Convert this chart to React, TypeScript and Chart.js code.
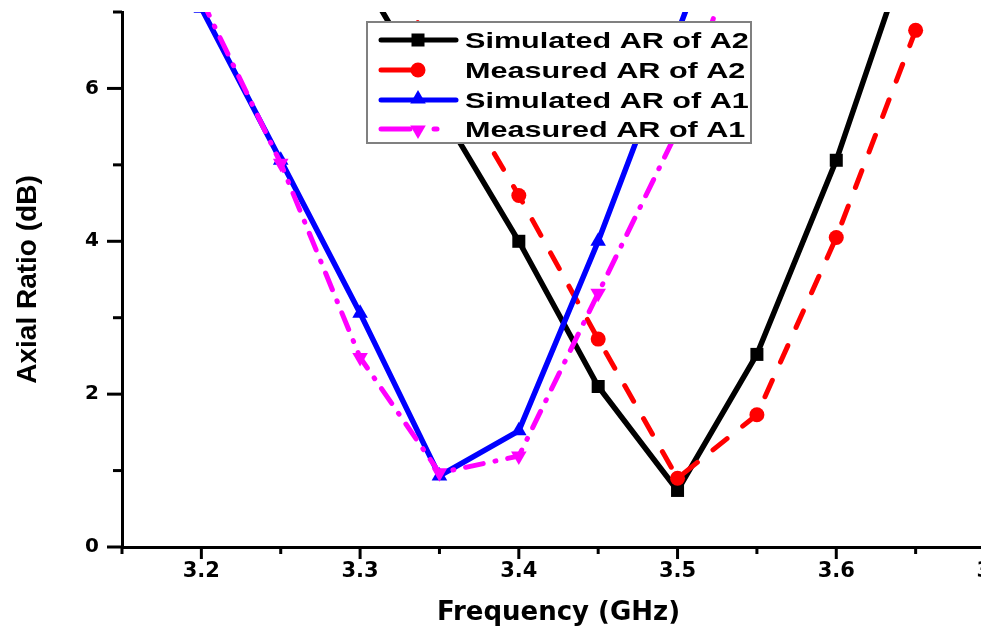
import React, { useEffect, useRef } from 'react';
import { Chart, registerables } from 'chart.js';

Chart.register(...registerables);

// ---- data ----
const freqA2 = [3.3, 3.35, 3.4, 3.45, 3.5, 3.55, 3.6, 3.65];
const simulatedA2 = [7.5, 5.74, 4.0, 2.1, 0.74, 2.52, 5.06, 8.1];
const measuredA2 = [8.15, 6.37, 4.6, 2.72, 0.9, 1.73, 4.05, 6.76];

const freqA1 = [3.2, 3.25, 3.3, 3.35, 3.4, 3.45, 3.5, 3.55];
const simulatedA1 = [7.05, 5.06, 3.06, 0.93, 1.52, 4.0, 6.73, 9.5];
const measuredA1 = [7.17, 5.02, 2.48, 0.97, 1.19, 3.32, 5.45, 8.7];

const seriesNames = ['Simulated AR of A2', 'Measured AR of A2', 'Simulated AR of A1', 'Measured AR of A1'];

const xTickValues = [3.15, 3.2, 3.25, 3.3, 3.35, 3.4, 3.45, 3.5, 3.55, 3.6, 3.65, 3.7];
const xTickLabels = ['', '3.2', '', '3.3', '', '3.4', '', '3.5', '', '3.6', '', '3.7'];
const yTickValues = [0, 1, 2, 3, 4, 5, 6, 7];
const yTickLabels = ['0', '', '2', '', '4', '', '6', ''];

const xTitle = 'Frequency (GHz)';
const yTitle = 'Axial Ratio (dB)';

const toPoints = (xs: number[], ys: number[]) => xs.map((x, i) => ({ x, y: ys[i] }));

function drawMarker(ctx: CanvasRenderingContext2D, style: string, x: number, y: number, r: number, color: string) {
  ctx.save();
  ctx.fillStyle = color;
  ctx.beginPath();
  if (style === 'rect') {
    const s = Math.SQRT1_2 * r;
    ctx.rect(x - s, y - s, 2 * s, 2 * s);
  } else if (style === 'circle') {
    ctx.arc(x, y, r, 0, Math.PI * 2);
  } else {
    const dir = style === 'triangleDown' ? -1 : 1;
    ctx.moveTo(x, y - dir * r);
    ctx.lineTo(x + 0.866 * r, y + dir * 0.5 * r);
    ctx.lineTo(x - 0.866 * r, y + dir * 0.5 * r);
    ctx.closePath();
  }
  ctx.fill();
  ctx.restore();
}

const tickPlugin = {
  id: 'axisTicks',
  afterDraw(chart: any) {
    const { ctx, chartArea, scales } = chart;
    const xs = scales.x;
    const ys = scales.y;
    ctx.save();
    ctx.strokeStyle = '#000';
    ctx.lineWidth = 3;
    ctx.lineCap = 'butt';
    xTickValues.forEach((v, i) => {
      const px = xs.getPixelForValue(v);
      if (px < chartArea.left - 2 || px > chartArea.right + 2) return;
      const len = xTickLabels[i] ? 12 : 7;
      ctx.beginPath();
      ctx.moveTo(px, chartArea.bottom);
      ctx.lineTo(px, chartArea.bottom + len);
      ctx.stroke();
    });
    yTickValues.forEach((v, i) => {
      const py = ys.getPixelForValue(v);
      const len = yTickLabels[i] ? 15 : 9;
      ctx.beginPath();
      ctx.moveTo(chartArea.left - len, py);
      ctx.lineTo(chartArea.left, py);
      ctx.stroke();
    });
    ctx.restore();
  },
};

const legendPlugin = {
  id: 'boxLegend',
  afterDraw(chart: any) {
    const { ctx } = chart;
    const bx = 367, by = 22, bw = 384, bh = 121;
    const rows = [40, 70, 100, 129];
    ctx.save();
    ctx.fillStyle = '#fff';
    ctx.fillRect(bx, by, bw, bh);
    ctx.strokeStyle = '#808080';
    ctx.lineWidth = 2;
    ctx.strokeRect(bx, by, bw, bh);

    const lx0 = 381, lx1 = 456, mx = 418;
    ctx.lineCap = 'round';
    ctx.lineWidth = 5;
    ctx.strokeStyle = '#000';
    ctx.beginPath(); ctx.moveTo(lx0, rows[0]); ctx.lineTo(lx1, rows[0]); ctx.stroke();
    drawMarker(ctx, 'rect', mx, rows[0], 9.2, '#000');
    ctx.strokeStyle = '#ff0000';
    ctx.beginPath(); ctx.moveTo(lx0, rows[1]); ctx.lineTo(412, rows[1]); ctx.stroke();
    drawMarker(ctx, 'circle', mx, rows[1], 7.5, '#ff0000');
    ctx.strokeStyle = '#0000ff';
    ctx.beginPath(); ctx.moveTo(lx0, rows[2]); ctx.lineTo(lx1, rows[2]); ctx.stroke();
    drawMarker(ctx, 'triangle', mx, rows[2] - 1, 9, '#0000ff');
    ctx.strokeStyle = '#ff00ff';
    ctx.beginPath(); ctx.moveTo(lx0, rows[3]); ctx.lineTo(410, rows[3]); ctx.stroke();
    ctx.beginPath(); ctx.moveTo(434, rows[3]); ctx.lineTo(437, rows[3]); ctx.stroke();
    drawMarker(ctx, 'triangleDown', mx, rows[3] + 1, 9, '#ff00ff');

    ctx.fillStyle = '#000';
    ctx.font = 'bold 22px "Liberation Sans", Arial, sans-serif';
    ctx.textBaseline = 'alphabetic';
    ctx.textAlign = 'left';
    seriesNames.forEach((name, i) => {
      ctx.save();
      ctx.translate(465, rows[i] + 8);
      ctx.scale(1.39, 1);
      ctx.fillText(name, 0, 0);
      ctx.restore();
    });
    ctx.restore();
  },
};

export default function App() {
  const canvasRef = useRef<HTMLCanvasElement | null>(null);

  useEffect(() => {
    document.body.style.margin = '0';
    document.body.style.overflow = 'hidden';
    const canvas = canvasRef.current;
    if (!canvas) return;

    const chart = new Chart(canvas, {
      type: 'line',
      data: {
        datasets: [
          {
            label: seriesNames[0],
            data: toPoints(freqA2, simulatedA2),
            borderColor: '#000000',
            backgroundColor: '#000000',
            borderWidth: 5.5,
            pointStyle: 'rect',
            pointRadius: 9.2,
            pointBorderWidth: 0,
            order: 3,
            clip: 0,
          },
          {
            label: seriesNames[1],
            data: toPoints(freqA2, measuredA2),
            borderColor: '#ff0000',
            backgroundColor: '#ff0000',
            borderWidth: 5,
            borderDash: [18, 20],
            borderCapStyle: 'round',
            pointStyle: 'circle',
            pointRadius: 7.5,
            pointBorderWidth: 0,
            order: 2,
            clip: 0,
          },
          {
            label: seriesNames[2],
            data: toPoints(freqA1, simulatedA1),
            borderColor: '#0000ff',
            backgroundColor: '#0000ff',
            borderWidth: 5.5,
            pointStyle: 'triangle',
            pointRadius: 9,
            pointBorderWidth: 0,
            order: 1,
            clip: 0,
          },
          {
            label: seriesNames[3],
            data: toPoints(freqA1, measuredA1),
            borderColor: '#ff00ff',
            backgroundColor: '#ff00ff',
            borderWidth: 5,
            borderDash: [18, 12, 1, 12],
            borderCapStyle: 'round',
            pointStyle: 'triangle',
            pointRotation: 180,
            pointRadius: 9,
            pointBorderWidth: 0,
            order: 0,
            clip: 0,
          },
        ],
      },
      options: {
        animation: false,
        responsive: false,
        devicePixelRatio: 1,
        layout: { padding: { top: 12, left: 11, right: 25, bottom: 5 } },
        elements: { line: { tension: 0 } },
        plugins: {
          legend: { display: false },
          tooltip: { enabled: false },
        },
        scales: {
          x: {
            type: 'linear',
            min: 3.15,
            max: 3.7,
            afterBuildTicks: (s: any) => {
              s.ticks = xTickValues.map((v) => ({ value: v }));
            },
            afterFit: (s: any) => {
              s.height = 82;
              s.paddingLeft = 0;
              s.paddingRight = 0;
            },
            ticks: {
              autoSkip: false,
              maxRotation: 0,
              padding: 12,
              color: '#000',
              font: { family: 'DejaVu Sans', weight: 'bold', size: 21 },
              callback: (_v: any, i: number) => xTickLabels[i],
            },
            grid: { display: false, drawTicks: false },
            border: { display: true, color: '#000', width: 3 },
            title: {
              display: true,
              text: xTitle,
              color: '#000',
              font: { family: 'DejaVu Sans', weight: 'bold', size: 26 },
              padding: { top: 0, bottom: 0 },
            },
          },
          y: {
            type: 'linear',
            min: 0,
            max: 7,
            afterBuildTicks: (s: any) => {
              s.ticks = yTickValues.map((v) => ({ value: v }));
            },
            afterFit: (s: any) => {
              s.width = 111;
              s.paddingTop = 0;
              s.paddingBottom = 0;
            },
            ticks: {
              autoSkip: false,
              padding: 23,
              color: '#000',
              font: { family: 'DejaVu Sans', weight: 'bold', size: 20 },
              callback: (_v: any, i: number) => yTickLabels[i],
            },
            grid: { display: false, drawTicks: false },
            border: { display: true, color: '#000', width: 3 },
            title: {
              display: true,
              text: yTitle,
              color: '#000',
              font: { family: 'Liberation Sans', weight: 'bold', size: 28 },
              padding: { top: 0, bottom: 0 },
            },
          },
        },
      },
      plugins: [tickPlugin, legendPlugin],
    } as any);

    return () => chart.destroy();
  }, []);

  return (
    <div style={{ width: 981, height: 634, overflow: 'hidden', position: 'relative', background: '#fff' }}>
      <canvas ref={canvasRef} width={1020} height={634} style={{ display: 'block' }} />
    </div>
  );
}
